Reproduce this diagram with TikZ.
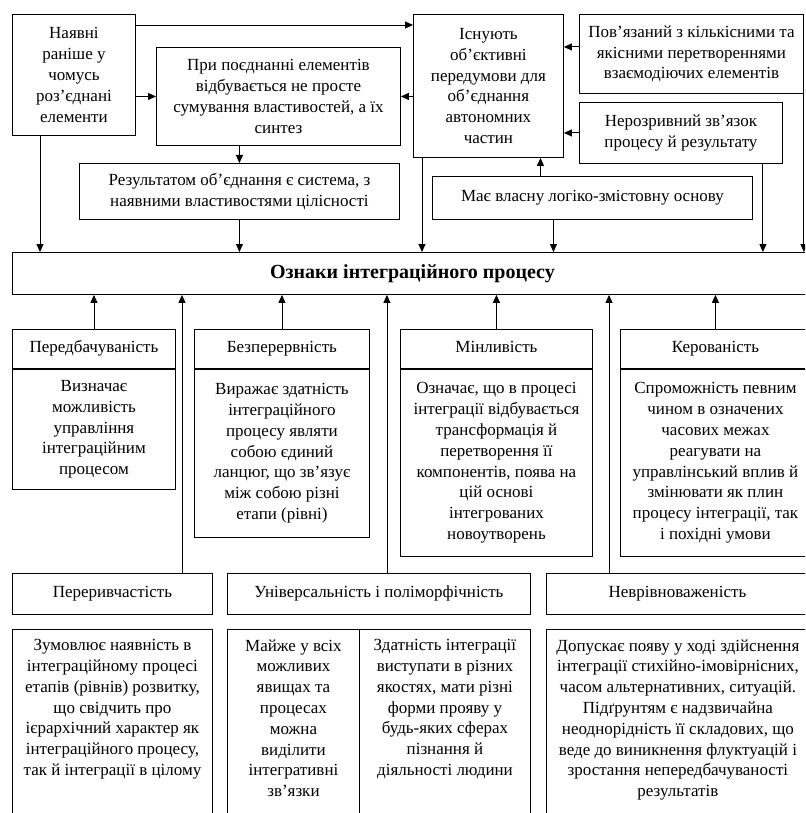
\documentclass[tikz,border=0pt]{standalone}
\usepackage{fontspec}
\setmainfont{Liberation Serif}
\usetikzlibrary{arrows.meta}

\begin{document}
\begin{tikzpicture}[
        x=1pt, y=-1pt,
        box/.style={draw, line width=0.9pt, anchor=north west, align=center, inner sep=0pt,
            font=\fontsize{17pt}{20.8pt}\selectfont},
        head/.style={box, minimum height=39pt, text height=11.5pt, text depth=3.5pt},
        open/.style={box, inner sep=10pt, text depth=200pt},
        arrow/.style={-{Triangle[length=8pt,width=7pt]}, line width=0.9pt}
    ]
        \useasboundingbox (0,0) rectangle (805,813);
        \clip (0,0) rectangle (805,813);

        % Upper part
        \node[box, minimum width=123pt, minimum height=121pt] (elem) at (12,14)
            {Наявні\\раніше у\\чомусь\\роз’єднані\\елементи};
        \node[box, minimum width=244pt, minimum height=98pt] (synth) at (156,47)
            {При поєднанні елементів\\відбувається не просте\\сумування властивостей, а їх\\синтез};
        \node[box, minimum width=320pt, minimum height=56pt] (result) at (79,163)
            {Результатом об’єднання є система, з\\наявними властивостями цілісності};
        \node[box, minimum width=150pt, minimum height=143pt] (premise) at (413,14)
            {Існують\\об’єктивні\\передумови для\\об’єднання\\автономних\\частин};
        \node[box, minimum width=224pt, minimum height=79pt] (quant) at (579,14)
            {Пов’язаний з кількісними та\\якісними перетвореннями\\взаємодіючих елементів};
        \node[box, minimum width=203pt, minimum height=61pt] (link) at (579,102)
            {Нерозривний зв’язок\\процесу й результату};
        \node[box, minimum width=320pt, minimum height=43pt] (logic) at (432,176)
            {Має власну логіко-змістовну основу};

        % Main node
        \node[box, minimum width=800pt, minimum height=42pt,
            font=\fontsize{20pt}{22pt}\selectfont\bfseries] (main) at (12,252)
            {Ознаки інтеграційного процесу};

        % Middle row
        \node[head, minimum width=163pt] (pred) at (12,329) {Передбачуваність};
        \node[box, minimum width=163pt, minimum height=120pt] (preddesc) at (pred.south west)
            {Визначає\\можливість\\управління\\інтеграційним\\процесом};
        \node[head, minimum width=175pt] (cont) at (194,329) {Безперервність};
        \node[box, minimum width=175pt, minimum height=168pt] (contdesc) at (cont.south west)
            {Виражає здатність\\інтеграційного\\процесу являти\\собою єдиний\\ланцюг, що зв’язує\\між собою різні\\етапи (рівні)};
        \node[head, minimum width=192pt] (var) at (400,329) {Мінливість};
        \node[box, minimum width=192pt, minimum height=187pt] (vardesc) at (var.south west)
            {Означає, що в процесі\\інтеграції відбувається\\трансформація й\\перетворення її\\компонентів, поява на\\цій основі\\інтегрованих\\новоутворень};
        \node[head, minimum width=190pt] (ctrl) at (620,329) {Керованість};
        \node[box, minimum width=190pt, minimum height=187pt] (ctrldesc) at (ctrl.south west)
            {Спроможність певним\\чином в означених\\часових межах\\реагувати на\\управлінський вплив й\\змінювати як плин\\процесу інтеграції, так\\і похідні умови};

        % Bottom row
        \node[head, minimum width=200pt, minimum height=41pt] (disc) at (12,573) {Переривчастість};
        \node[open, minimum width=200pt] (discdesc) at (12,629)
            {Зумовлює наявність в\\інтеграційному процесі\\етапів (рівнів) розвитку,\\що свідчить про\\ієрархічний характер як\\інтеграційного процесу,\\так й інтеграції в цілому};
        \node[head, minimum width=303pt, minimum height=41pt] (univ) at (227,573) {Універсальність і поліморфічність};
        \node[open, minimum width=132pt] (univl) at (227,629)
            {Майже у всіх\\можливих\\явищах та\\процесах\\можна\\виділити\\інтегративні\\зв’язки};
        \node[open, minimum width=171pt] (univr) at (359,629)
            {Здатність інтеграції\\виступати в різних\\якостях, мати різні\\форми прояву у\\будь-яких сферах\\пізнання й\\діяльності людини};
        \node[head, minimum width=262pt, minimum height=41pt] (uneq) at (546,573) {Неврівноваженість};
        \node[open, minimum width=262pt] (uneqdesc) at (546,629)
            {Допускає появу у ході здійснення\\інтеграції стихійно-імовірнісних,\\часом альтернативних, ситуацій.\\Підґрунтям є надзвичайна\\неоднорідність її складових, що\\веде до виникнення флуктуацій і\\зростання непередбачуваності\\результатів};

        % Connections, upper part
        \draw[arrow] ([yshift=-11pt]elem.north east) -- ([yshift=-11pt]premise.north west);
        \draw[arrow] (elem.east |- synth.west) -- (synth.west);
        \draw[arrow] (premise.west |- synth.east) -- (synth.east);
        \draw[arrow] ([yshift=7pt]quant.west) -- ([yshift=7pt]quant.west -| premise.east);
        \draw[arrow] (link.west) -- (link.west -| premise.east);
        \draw[arrow] ([xshift=-52pt]logic.north) -- ([xshift=-52pt]logic.north |- premise.south);
        \draw[arrow] (result.north |- synth.south) -- (result.north);

        % Into the main node
        \draw[arrow] ([xshift=28pt]elem.south west) -- ([xshift=28pt]elem.south west |- main.north);
        \draw[arrow] (result.south) -- (result.south |- main.north);
        \draw[arrow] ([xshift=9pt]premise.south west) -- ([xshift=9pt]premise.south west |- main.north);
        \draw[arrow] ([xshift=-39pt]logic.south) -- ([xshift=-39pt]logic.south |- main.north);
        \draw[arrow] ([xshift=-20pt]link.south east) -- ([xshift=-20pt]link.south east |- main.north);
        \draw[arrow] (quant.south east) -- (quant.south east |- main.north);

        \draw[arrow] (pred.north) -- (pred.north |- main.south);
        \draw[arrow] (cont.north) -- (cont.north |- main.south);
        \draw[arrow] (var.north) -- (var.north |- main.south);
        \draw[arrow] (ctrl.north) -- (ctrl.north |- main.south);
        \draw[arrow] ([xshift=170pt]disc.north west) -- ([xshift=170pt]disc.north west |- main.south);
        \draw[arrow] ([xshift=8pt]univ.north) -- ([xshift=8pt]univ.north |- main.south);
        \draw[arrow] ([xshift=63pt]uneq.north west) -- ([xshift=63pt]uneq.north west |- main.south);
    \end{tikzpicture}
\end{document}
